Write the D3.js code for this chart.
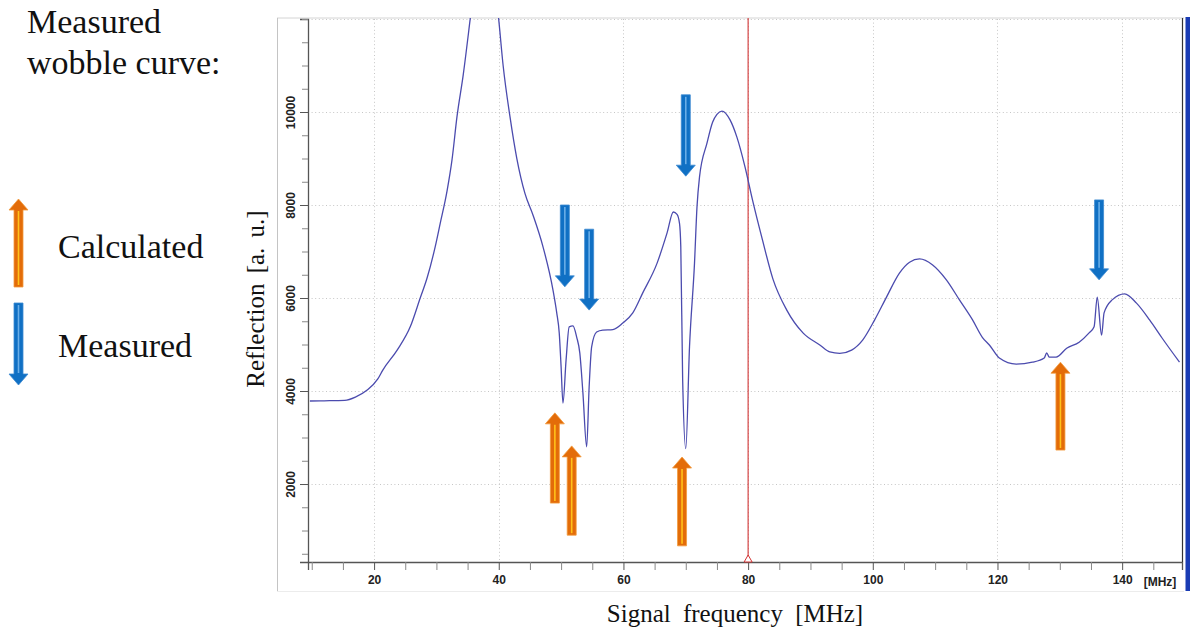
<!DOCTYPE html>
<html>
<head>
<meta charset="utf-8">
<script src="https://cdn.jsdelivr.net/npm/d3@7/dist/d3.min.js"></script>
<style>
  body { margin: 0; background: #fff; }
  svg { display: block; }
</style>
</head>
<body>
<div id="chart"></div>
<script>

// measured wobble curve (MHz, a.u.)
const freq = [9.7, 12, 15.3, 17, 18.9, 20.6, 21.4, 23.7, 25.8, 27.4, 28.5, 29.8, 30.6, 31.7, 32.5, 33.3, 34.3, 35.4,
  36.5, 37.8, 39.0, 40.0, 40.7, 41.8, 42.9, 44.2, 45.5, 47.1, 48.7, 49.3, 49.7, 50.0, 50.3, 50.8, 51.3, 51.9,
  52.5, 53.0, 53.5, 54.1, 54.5, 54.9, 55.7, 56.7, 58.3, 59.9, 61.5, 63.1, 65.4, 67.0, 68.0, 68.6, 69.0, 69.2,
  69.5, 70.0, 70.6, 71.4, 71.8, 72.2, 73.4, 74.3, 75.0, 75.8, 77.1, 78.2, 79.5, 80.7, 82.3, 84.0, 86.2, 88.8,
  91.5, 93.1, 94.7, 96.6, 98.4, 100.3, 102.2, 104.3, 105.9, 107.5, 109.6, 111.8, 113.9, 116.0, 117.6, 118.7,
  120.3, 123.0, 125.6, 127.5, 127.9, 128.3, 129.4, 131.1, 133.1, 134.7, 135.5, 136.0, 136.7, 137.1, 138.4,
  140.4, 142.3, 144.4, 146.4, 149.2];
const refl = [3785, 3790, 3800, 3870, 4020, 4260, 4450, 4880, 5380, 6000, 6430, 7100, 7600, 8300, 8970, 9900, 10800, 11980,
  13200, 13800, 13200, 11980, 11000, 9900, 9000, 8250, 7780, 7100, 6170, 5680, 5250, 4520, 3740, 4670, 5380, 5400,
  5160, 4820, 3960, 2800, 4090, 4950, 5270, 5310, 5320, 5460, 5680, 6110, 6750, 7400, 7850, 7800, 7600, 7100,
  4240, 2760, 4950, 6750, 7960, 8600, 9330, 9780, 9950, 10020, 9830, 9460, 8820, 8110, 7250, 6400, 5740, 5250,
  4990, 4840, 4810, 4880, 5100, 5530, 6020, 6540, 6770, 6840, 6710, 6390, 5960, 5530, 5150, 4990,
  4710, 4580, 4620, 4710, 4820, 4730, 4730, 4920, 5050, 5250, 5380, 6020, 5200, 5680, 5960,
  6090, 5890, 5530, 5140, 4620];

const xTickVals = [20, 40, 60, 80, 100, 120, 140];
const yTickVals = [2000, 4000, 6000, 8000, 10000];

// orange arrows = calculated resonances, blue = measured ones
const calcFreq = [49.0, 51.7, 69.4, 130.1];
const calcTip  = [3530, 2820, 2580, 4620];
const calcTail = [1590, 900, 670, 2730];

const measFreq = [50.6, 54.5, 70.0, 136.3];
const measTail = [8000, 7480, 10370, 8110];
const measTip  = [6240, 5740, 8620, 6390];

const markerFreq = 80;

const W = 1190, H = 630;
const P = {left: 308, right: 1182, top: 19, bottom: 562};

const svg = d3.select('#chart').append('svg')
    .attr('width', W).attr('height', H)
    .attr('viewBox', [0, 0, W, H]);

const x = d3.scaleLinear().domain([9.4, 149.6]).range([P.left, P.right]);
const y = d3.scaleLinear().domain([323, 12000]).range([P.bottom, P.top]);

// panel frame (light gray) and the blue bar on the right
svg.append('line').attr('x1', 277).attr('x2', 1184).attr('y1', 18).attr('y2', 18)
    .attr('stroke', '#d4d4d4');
svg.append('line').attr('x1', 277.5).attr('x2', 277.5).attr('y1', 18).attr('y2', 591)
    .attr('stroke', '#c4c4c4');
svg.append('line').attr('x1', 277).attr('x2', 1184).attr('y1', 591.5).attr('y2', 591.5)
    .attr('stroke', '#ececec');
svg.append('rect').attr('x', 1185.5).attr('y', 17).attr('width', 5).attr('height', 574)
    .attr('fill', '#1a3cb4');

// grid
const grid = svg.append('g')
    .attr('stroke', '#c6c6c6')
    .attr('stroke-dasharray', '1,2.6');
grid.selectAll('.gx').data(xTickVals).join('line')
    .attr('x1', d => Math.round(x(d)) + 0.5).attr('x2', d => Math.round(x(d)) + 0.5)
    .attr('y1', P.top).attr('y2', P.bottom);
grid.selectAll('.gy').data(yTickVals.concat([12000])).join('line')
    .attr('x1', P.left).attr('x2', P.right)
    .attr('y1', d => Math.round(y(d)) + 0.5).attr('y2', d => Math.round(y(d)) + 0.5);

// axes
const tickFont = g => g.selectAll('text')
    .attr('font-family', '"Liberation Sans", Arial, sans-serif')
    .attr('font-weight', 'bold')
    .attr('font-size', 12)
    .attr('fill', '#222');

svg.append('g')
    .attr('transform', `translate(0,${P.bottom})`)
    .call(d3.axisBottom(x).tickValues(d3.range(10, 150, 5)).tickSize(8)
        .tickFormat(d => xTickVals.includes(d) ? d : ''))
    .call(g => g.select('.domain').attr('stroke', '#555').attr('stroke-width', 1.3))
    .call(g => g.selectAll('.tick line').attr('stroke', d => xTickVals.includes(d) ? '#555' : '#888'))
    .call(g => g.selectAll('.tick text').attr('dy', '0.95em'))
    .call(tickFont);

svg.append('text')
    .attr('x', 1160).attr('y', 586)
    .attr('text-anchor', 'middle')
    .attr('font-family', '"Liberation Sans", Arial, sans-serif')
    .attr('font-weight', 'bold').attr('font-size', 12).attr('fill', '#222')
    .text('[MHz]');

svg.append('g')
    .attr('transform', `translate(${P.left},0)`)
    .call(d3.axisLeft(y).tickValues(d3.range(500, 12001, 500)).tickSize(8)
        .tickFormat(d => yTickVals.includes(d) ? d : ''))
    .call(g => g.select('.domain').attr('stroke', '#555').attr('stroke-width', 1.3))
    .call(g => g.selectAll('.tick line')
        .attr('stroke', d => yTickVals.includes(d) ? '#555' : '#888')
        .attr('x2', d => yTickVals.includes(d) ? -8 : -6))
    .call(g => g.selectAll('.tick text')
        .attr('transform', 'rotate(-90)')
        .attr('x', 0).attr('y', -13)
        .attr('dy', 0)
        .attr('text-anchor', 'middle'))
    .call(tickFont);

// right border of the plot
svg.append('line').attr('x1', P.right + 0.5).attr('x2', P.right + 0.5)
    .attr('y1', P.top - 1).attr('y2', P.bottom)
    .attr('stroke', '#333').attr('stroke-width', 1.2);

// red marker
svg.append('line')
    .attr('x1', x(markerFreq)).attr('x2', x(markerFreq))
    .attr('y1', P.top - 1).attr('y2', P.bottom)
    .attr('stroke', '#d23434').attr('stroke-width', 1.1);
svg.append('path')
    .attr('d', `M${x(markerFreq)},${P.bottom - 7} L${x(markerFreq) + 4},${P.bottom} L${x(markerFreq) - 4},${P.bottom} Z`)
    .attr('fill', '#fff').attr('stroke', '#d23434');

// curve
svg.append('clipPath').attr('id', 'clip')
    .append('rect').attr('x', P.left).attr('y', P.top - 1)
    .attr('width', P.right - P.left).attr('height', P.bottom - P.top + 1);

const pts = freq.map((f, i) => [f, refl[i]]);
svg.append('path')
    .datum(pts)
    .attr('clip-path', 'url(#clip)')
    .attr('fill', 'none')
    .attr('stroke', '#4b4bae')
    .attr('stroke-width', 1.3)
    .attr('d', d3.line().x(d => x(d[0])).y(d => y(d[1])).curve(d3.curveMonotoneX));

// arrows
function arrowPath(cx, yTail, yTip, sw, hw, hl) {
    const s = Math.sign(yTip - yTail);
    const base = yTip - s * hl;
    return `M${cx - sw / 2},${yTail} L${cx + sw / 2},${yTail} L${cx + sw / 2},${base} L${cx + hw / 2},${base}` +
        ` L${cx},${yTip} L${cx - hw / 2},${base} L${cx - sw / 2},${base} Z`;
}

function drawArrow(g, cx, yTail, yTip, fill, edge, mid) {
    const s = Math.sign(yTip - yTail);
    g.append('path')
        .attr('d', arrowPath(cx, yTail, yTip, 9, 19, 11))
        .attr('fill', fill)
        .attr('stroke', edge).attr('stroke-width', 0.8);
    g.append('line')
        .attr('x1', cx).attr('x2', cx)
        .attr('y1', yTail + s * 2).attr('y2', yTip - s * 12)
        .attr('stroke', mid).attr('stroke-width', 1.6);
}

const arrows = svg.append('g');
calcFreq.forEach((f, i) => drawArrow(arrows, x(f), y(calcTail[i]), y(calcTip[i]), '#e36c09', '#f39a3c', '#ffc21a'));
measFreq.forEach((f, i) => drawArrow(arrows, x(f), y(measTail[i]), y(measTip[i]), '#1070c4', '#3d8ad2', '#6aaee8'));

// legend arrows
drawArrow(arrows, 18.5, 287, 199, '#e36c09', '#f39a3c', '#ffc21a');
drawArrow(arrows, 18.5, 303, 385, '#1070c4', '#3d8ad2', '#6aaee8');

// texts
const serif = '"Liberation Serif", "Times New Roman", serif';
const txt = svg.append('g').attr('font-family', serif).attr('fill', '#111');
txt.append('text').attr('x', 27).attr('y', 33).attr('font-size', 34).text('Measured');
txt.append('text').attr('x', 27).attr('y', 74).attr('font-size', 34).text('wobble curve:');
txt.append('text').attr('x', 58).attr('y', 258).attr('font-size', 34).text('Calculated');
txt.append('text').attr('x', 58).attr('y', 357).attr('font-size', 34).text('Measured');

txt.append('text')
    .attr('transform', 'translate(264,299) rotate(-90)')
    .attr('text-anchor', 'middle')
    .attr('font-size', 25)
    .attr('word-spacing', 4)
    .text('Reflection [a. u.]');

txt.append('text')
    .attr('x', 735).attr('y', 622)
    .attr('text-anchor', 'middle')
    .attr('font-size', 25)
    .attr('word-spacing', 6)
    .text('Signal frequency [MHz]');

</script>
</body>
</html>
